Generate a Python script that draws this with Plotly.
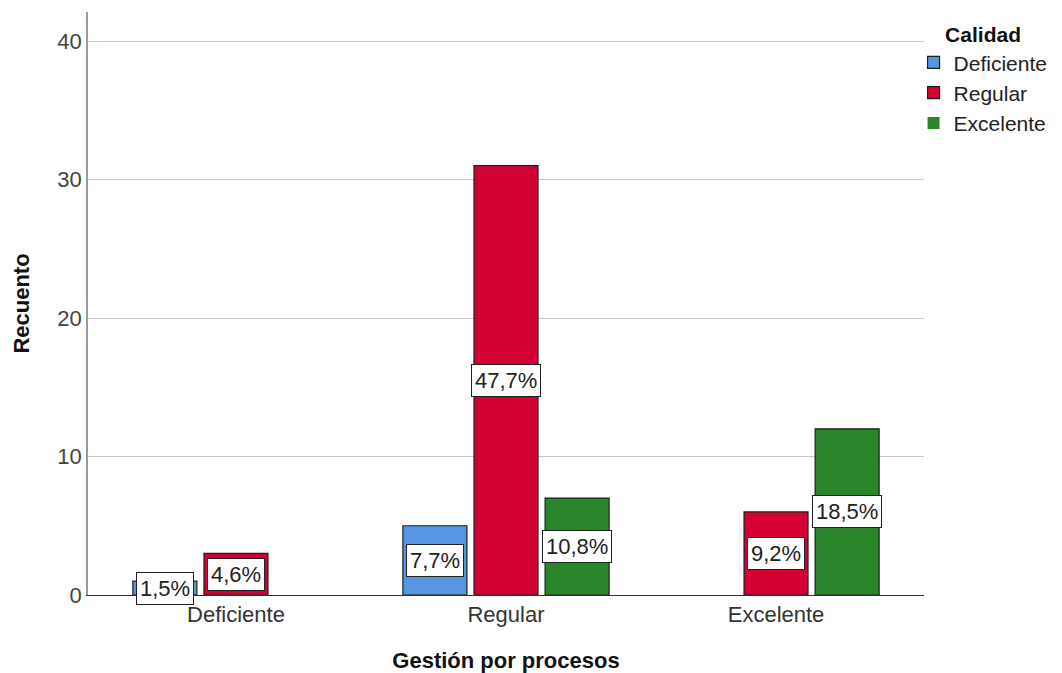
import plotly.graph_objects as go

categories = ["Deficiente", "Regular", "Excelente"]
series_names = ["Deficiente", "Regular", "Excelente"]
values = {
    "Deficiente": [1, 5, 0],
    "Regular": [3, 31, 6],
    "Excelente": [0, 7, 12],
}
colors = {"Deficiente": "#5597E4", "Regular": "#D50032", "Excelente": "#2A862A"}
y_ticks = [0, 10, 20, 30, 40]

FONT = "Liberation Sans, Arial, sans-serif"
FS = 22
BARGAP = 0.21
BARGROUPGAP = 0.1

total = sum(sum(v) for v in values.values())

fig = go.Figure()
for name in series_names:
    fig.add_trace(go.Bar(
        x=categories, y=values[name], name=name,
        marker=dict(color=colors[name],
                    line=dict(color="#1e1e1e",
                              width=[1.2 if v > 0 else 0 for v in values[name]])),
    ))

annotations = []
slot = (1 - BARGAP) / len(series_names)
for si, name in enumerate(series_names):
    for ci, v in enumerate(values[name]):
        if v <= 0:
            continue
        pct = f"{v / total * 100:.1f}".replace(".", ",") + "%"
        annotations.append(dict(
            x=ci + (si - (len(series_names) - 1) / 2) * slot, y=v / 2,
            xref="x", yref="y", text=pct, showarrow=False,
            font=dict(family=FONT, size=FS, color="#222"),
            bgcolor="white", bordercolor="#222", borderwidth=1, borderpad=3,
        ))

fig.update_layout(
    width=1062, height=673,
    margin=dict(l=88, r=138, t=12, b=78, autoexpand=False),
    paper_bgcolor="white", plot_bgcolor="white",
    barmode="group", bargap=BARGAP, bargroupgap=BARGROUPGAP,
    font=dict(family=FONT, size=FS, color="#333"),
    annotations=annotations,
    legend=dict(
        x=0.9875, y=0.995, xanchor="left", yanchor="top",
        bgcolor="rgba(0,0,0,0)",
        title=dict(text="<b>Calidad</b>", side="top center", font=dict(size=FS - 1, color="#111")),
        font=dict(size=FS - 1, color="#222"), tracegroupgap=0,
        itemwidth=30,
    ),
    xaxis=dict(
        type="category", range=[-0.548, 2.548],
        showgrid=False, showline=True, linecolor="#333", linewidth=1,
        ticks="", tickfont=dict(size=FS, color="#333"),
        title=dict(text="<b>Gestión por procesos</b>", font=dict(size=FS, color="#111"), standoff=26),
    ),
    yaxis=dict(
        range=[0, 42.1], tickvals=y_ticks,
        showgrid=True, gridcolor="#c8c8c8", gridwidth=1,
        showline=True, linecolor="#999", linewidth=1.5,
        zeroline=False, ticks="", tickfont=dict(size=FS, color="#444"),
        title=dict(text="<b>Recuento</b>", font=dict(size=FS, color="#111"), standoff=22),
    ),
)

fig.write_html("out.html")
